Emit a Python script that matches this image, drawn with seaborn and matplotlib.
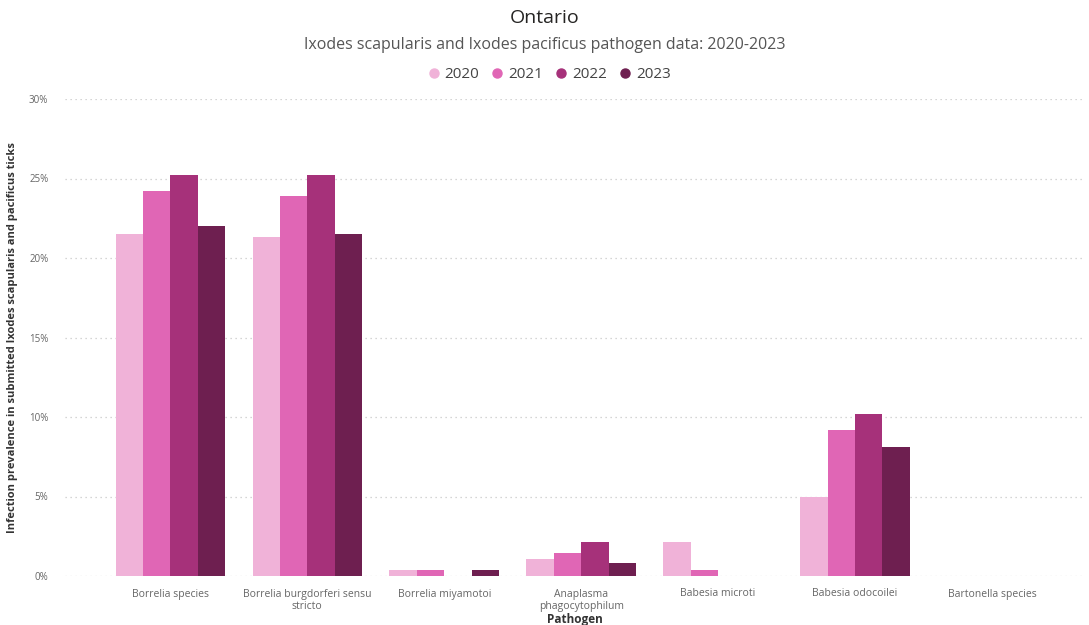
import pandas as pd
import seaborn as sns
import matplotlib.pyplot as plt
from matplotlib.lines import Line2D
from matplotlib.ticker import FuncFormatter

# ============ Data ============
pathogens = ["Borrelia species", "Borrelia burgdorferi sensu\nstricto", "Borrelia miyamotoi",
             "Anaplasma\nphagocytophilum", "Babesia microti", "Babesia odocoilei",
             "Bartonella species"]
years = ["2020", "2021", "2022", "2023"]
prev_2020 = [21.5, 21.3, 0.35, 1.07, 2.14, 4.97, 0.0]
prev_2021 = [24.2, 23.9, 0.35, 1.45, 0.35, 9.2, 0.0]
prev_2022 = [25.2, 25.2, 0.0, 2.14, 0.0, 10.2, 0.0]
prev_2023 = [22.0, 21.5, 0.35, 0.8, 0.0, 8.1, 0.0]
colors = ["#F0B2D8", "#E066B5", "#A6317A", "#6E1F50"]

rows = []
for yr, vals in zip(years, [prev_2020, prev_2021, prev_2022, prev_2023]):
    for p, v in zip(pathogens, vals):
        rows.append({"Pathogen": p, "Year": yr, "Prevalence": v})
df = pd.DataFrame(rows)

# ============ Plot ============
sns.set_style("white")
plt.rcParams['font.family'] = ['Open Sans', 'DejaVu Sans']

fig = plt.figure(figsize=(10.89, 6.25), dpi=100)
ax = fig.add_axes([65 / 1089, 1 - 576 / 625, 1020 / 1089, 477 / 625])

sns.barplot(data=df, x="Pathogen", y="Prevalence", hue="Year", order=pathogens,
            hue_order=years, palette=colors, width=0.8, saturation=1,
            linewidth=0, legend=False, ax=ax)

ax.set_ylim(0, 30)
ax.set_xlim(-0.77, 6.68)
ax.set_yticks([0, 5, 10, 15, 20, 25, 30])
ax.yaxis.set_major_formatter(FuncFormatter(lambda v, _: f"{v:.0f}%"))
ax.yaxis.grid(True, linestyle=(0, (1, 3)), color="#c8c8c8", linewidth=0.9)
ax.set_axisbelow(True)
sns.despine(ax=ax, left=True, bottom=True)
ax.tick_params(axis="both", length=0, labelcolor="#666666")
ax.tick_params(axis="y", pad=12, labelsize=7)
ax.tick_params(axis="x", pad=9, labelsize=7.5)
for t in ax.get_xticklabels():
    t.set_linespacing(1.2)

ax.set_xlabel("Pathogen", fontsize=8.5, fontweight="bold", color="#333333")
ax.xaxis.set_label_coords(0.5, -0.077)
ax.set_ylabel("Infection prevalence in submitted Ixodes scapularis and pacificus ticks",
              fontsize=8, fontweight="bold", color="#333333", labelpad=8)

# ============ Titles and legend ============
fig.text(0.5, 1 - 18 / 625, "Ontario", ha="center", va="center", fontsize=14, color="#252423")
fig.text(0.5, 1 - 45 / 625, "Ixodes scapularis and Ixodes pacificus pathogen data: 2020-2023",
         ha="center", va="center", fontsize=11.5, color="#555555")
handles = [Line2D([], [], marker="o", linestyle="", markersize=6.5, color=c) for c in colors]
fig.legend(handles, years, loc="center", bbox_to_anchor=(0.5, 1 - 75 / 625), ncol=4,
           frameon=False, fontsize=11, handletextpad=-0.3, columnspacing=0.2,
           labelcolor="#444444")

fig.savefig("out.png", dpi=100)
